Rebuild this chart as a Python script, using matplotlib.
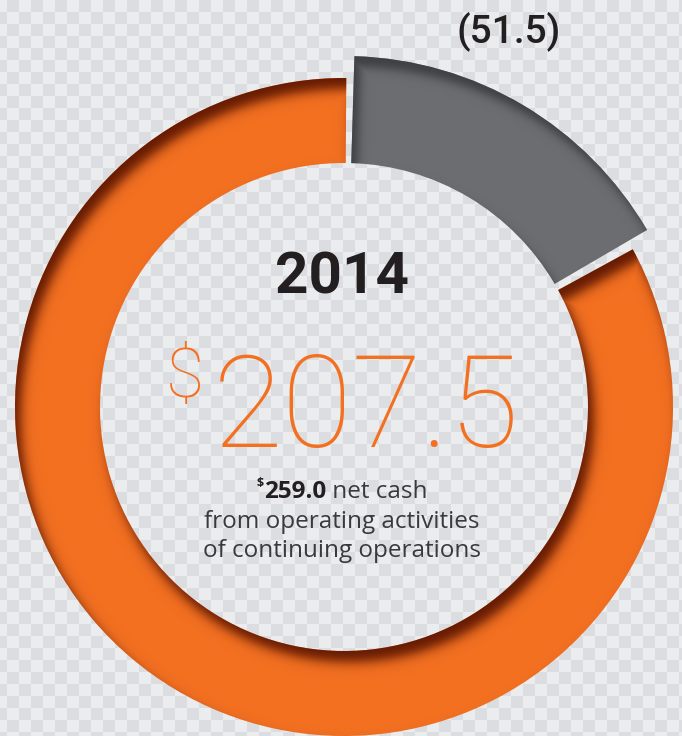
import numpy as np
import matplotlib
matplotlib.use("Agg")
import matplotlib.pyplot as plt

# values (gray = outflow, orange = net cash from operations)
labels = ["outflow", "operating"]
values = [51.5, 259.0]
colors = ["#6c6d70", "#f37021"]
shadow_colors = ["#2e2f31", "#5a1400"]
year = "2014"
big_value = "207.5"
outflow_label = "(51.5)"
total_value = "259.0"
caption_lines = ["from operating activities", "of continuing operations"]

W, H = 682, 736
cx, cy = 344, 736 - 407  # ring centre in pixel coords (y up)
r_out, r_in = 329, 244
gray_out = 351

fig = plt.figure(figsize=(W / 100, H / 100), dpi=100)
ax = fig.add_axes([0, 0, 1, 1])

# checkered background
xx, yy = np.meshgrid(np.arange(W), np.arange(H))
checker = (((xx + 5) // 12) + (yy // 12)) % 2
bg = np.where(checker[..., None] == 1,
              np.array([0xdc, 0xdd, 0xe0]) / 255,
              np.array([0xeb, 0xec, 0xee]) / 255)
ax.imshow(bg, extent=(0, W, 0, H), origin="upper", zorder=0, interpolation="nearest")

# donut
wedges, _ = ax.pie(values, colors=colors, startangle=90, counterclock=False,
                   center=(cx, cy), radius=r_out,
                   wedgeprops=dict(width=r_out - r_in, linewidth=0))
gray, orange = wedges
gray.set_radius(gray_out)
gray.set_width(gray_out - r_in)
# small gaps between the pieces
gray.set_theta2(gray.theta2 - 1.7)
orange.set_theta1(orange.theta1 - 0.4)
orange.set_theta2(orange.theta2 - 1.65)
for w in wedges:
    w.set_zorder(2)


# soft inner shadow, light from the upper left
def inner_shadow(wedge, color, strength, off=(6, -11), sigma=6.0):
    px = xx + 0.5 - off[0]
    py = (H - yy - 0.5) - off[1]
    dx, dy = px - cx, py - cy
    d = np.hypot(dx, dy)
    ro, ri = wedge.r, wedge.r - wedge.width
    sd_ring = np.maximum(d - ro, ri - d)
    t1, t2 = wedge.theta1, wedge.theta2
    ang = np.degrees(np.arctan2(dy, dx))
    inside = ((ang - t1) % 360) <= (t2 - t1)
    dists = []
    for t in (t1, t2):
        ux, uy = np.cos(np.radians(t)), np.sin(np.radians(t))
        proj = dx * ux + dy * uy
        perp = np.abs(dx * uy - dy * ux)
        dists.append(np.where(proj >= 0, perp, d))
    dmin = np.minimum(*dists)
    sd_sec = np.where(inside, -dmin, dmin)
    sd = np.maximum(sd_ring, sd_sec)
    alpha = strength / (1 + np.exp(-1.7 * sd / sigma))
    rgba = np.zeros((H, W, 4))
    rgba[..., :3] = matplotlib.colors.to_rgb(color)
    rgba[..., 3] = alpha
    im = ax.imshow(rgba, extent=(0, W, 0, H), origin="upper", zorder=3,
                   interpolation="bilinear")
    im.set_clip_path(wedge)


inner_shadow(gray, shadow_colors[0], 0.75, sigma=5.0)
inner_shadow(orange, shadow_colors[1], 0.95)

ax.set_xlim(0, W)
ax.set_ylim(0, H)
ax.set_aspect("equal")
ax.axis("off")

font = "Roboto"
cap_font = "Open Sans"
dark = "#231f20"
orange_c = colors[1]

ax.text(509, H - 42, outflow_label, ha="center", va="baseline", fontsize=28,
        fontweight="medium", family=font, color=dark, zorder=5)
ax.text(342, H - 293, year, ha="center", va="baseline", fontsize=42,
        fontweight="bold", family=font, color=dark, zorder=5)

num = ax.text(366, H - 447, big_value, ha="center", va="baseline", fontsize=92,
              fontweight="light", family=font, color=orange_c, zorder=5)
ax.annotate("$", xy=(0, 1), xycoords=num, xytext=(-6, 4), textcoords="offset points",
            ha="right", va="top", fontsize=50, fontweight="light", family=font,
            color=orange_c, zorder=5)

# first caption line: $259.0 net cash (mixed weights)
fig.canvas.draw()
renderer = fig.canvas.get_renderer()
t_dollar = ax.text(0, H - 498, "$", ha="left", va="baseline", fontsize=9,
                   fontweight="bold", family=cap_font, color=dark, zorder=5)
t_val = ax.text(0, H - 498, total_value, ha="left", va="baseline", fontsize=17.5,
                fontweight="bold", family=cap_font, color=dark, zorder=5)
t_rest = ax.text(0, H - 498, " net cash", ha="left", va="baseline", fontsize=17.5,
                 family=cap_font, color="#3a3a3c", zorder=5)
widths = [t.get_window_extent(renderer).width for t in (t_dollar, t_val, t_rest)]
x0 = 342 - sum(widths) / 2
t_dollar.set_x(x0)
t_dollar.set_y(H - 487)
t_val.set_x(x0 + widths[0])
t_rest.set_x(x0 + widths[0] + widths[1])

for i, line in enumerate(caption_lines):
    ax.text(342, H - 528 - 29 * i, line, ha="center", va="baseline", fontsize=17.5,
            family=cap_font, color="#3a3a3c", zorder=5)

fig.savefig("out.png", dpi=100)
